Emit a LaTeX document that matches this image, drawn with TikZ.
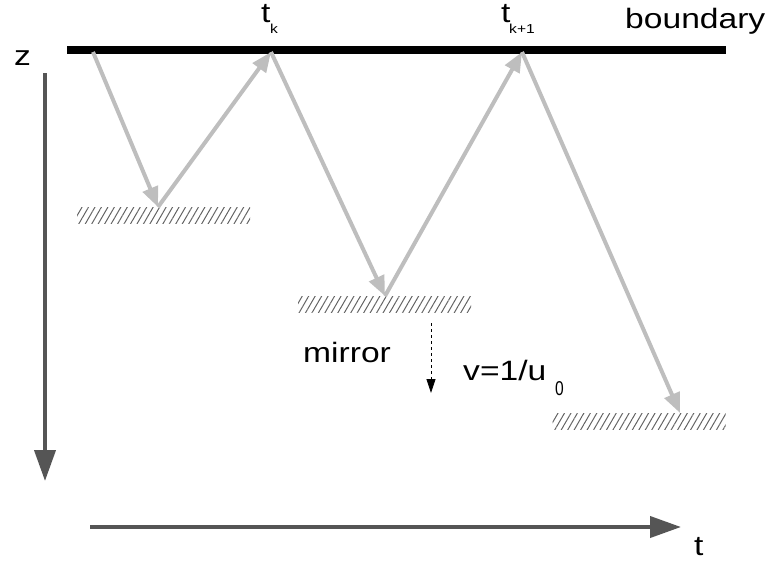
\documentclass[tikz,border=0pt]{standalone}
\usepackage{fontspec}
\setmainfont[FakeStretch=1.2]{Liberation Sans}
\usetikzlibrary{arrows.meta,patterns.meta}
\definecolor{raycol}{RGB}{190,190,190}
\definecolor{axiscol}{RGB}{85,85,85}
\definecolor{hatchcol}{RGB}{100,100,100}
\begin{document}
\begin{tikzpicture}[x=1pt,y=-1pt,
  ray/.style={draw=raycol,line width=4pt,-{Triangle[length=20pt,width=16pt]}},
  axisarrow/.style={draw=axiscol,line width=4pt,-{Triangle[length=31pt,width=21pt]}},
  mirrorbox/.style={draw=none,inner sep=0pt,minimum width=173pt,minimum height=16pt,
    pattern={Lines[angle=60,distance=5.6pt,line width=1pt]},pattern color=hatchcol},
  lbl/.style={inner sep=0pt,anchor=base west,font=\fontsize{28}{30}\selectfont},
  sub/.style={inner sep=0pt,anchor=base west,font=\fontsize{13}{14}\selectfont},
]
\useasboundingbox (0,0) rectangle (773,562);
% boundary
\coordinate (bl) at (67,50);
\coordinate (br) at (726,50);
\draw[line width=8pt] (bl) -- (br);
% mirrors
\node[mirrorbox] (m1) at (163.5,215) {};
\node[mirrorbox] (m2) at (384.5,304) {};
\node[mirrorbox] (m3) at (639,421.5) {};
% ray points
\coordinate (s0) at (93,52);
\coordinate (r1) at (158,207);
\coordinate (b1) at (271,52);
\coordinate (r2) at (385,296);
\coordinate (b2) at (522,52);
\coordinate (r3) at (680,413);
\draw[ray] (s0) -- (r1);
\draw[ray] (r1) -- (b1);
\draw[ray] (b1) -- (r2);
\draw[ray] (r2) -- (b2);
\draw[ray] (b2) -- (r3);
% mirror velocity
\coordinate (v0) at (431,323);
\coordinate (v1) at (431,393);
\draw[dashed,line width=0.8pt,-{Triangle[length=14pt,width=9pt]}] (v0) -- (v1);
% axes
\coordinate (z0) at (45,73);
\coordinate (z1) at (45,481);
\draw[axisarrow] (z0) -- (z1);
\coordinate (t0) at (90,527);
\coordinate (t1) at (681,527);
\draw[axisarrow] (t0) -- (t1);
% labels
\node[lbl] (lz) at (14,65) {z};
\node[lbl] (lt) at (694,555) {t};
\node[lbl] (lb) at (625,28) {boundary};
\node[lbl] (lm) at (303,362) {mirror};
\node[lbl] (lv) at (463,380) {v=1/u};
\node[inner sep=0pt,anchor=base west,font=\fontsize{20}{20}\selectfont] (lv0) at (555,395) {\scalebox{0.65}[1]{0}};
\node[lbl] (ltk) at (261,23) {t};
\node[sub] (ltks) at (270,33) {k};
\node[lbl] (ltk1) at (501,23) {t};
\node[sub] (ltk1s) at (509,33) {k+1};
\end{tikzpicture}
\end{document}
